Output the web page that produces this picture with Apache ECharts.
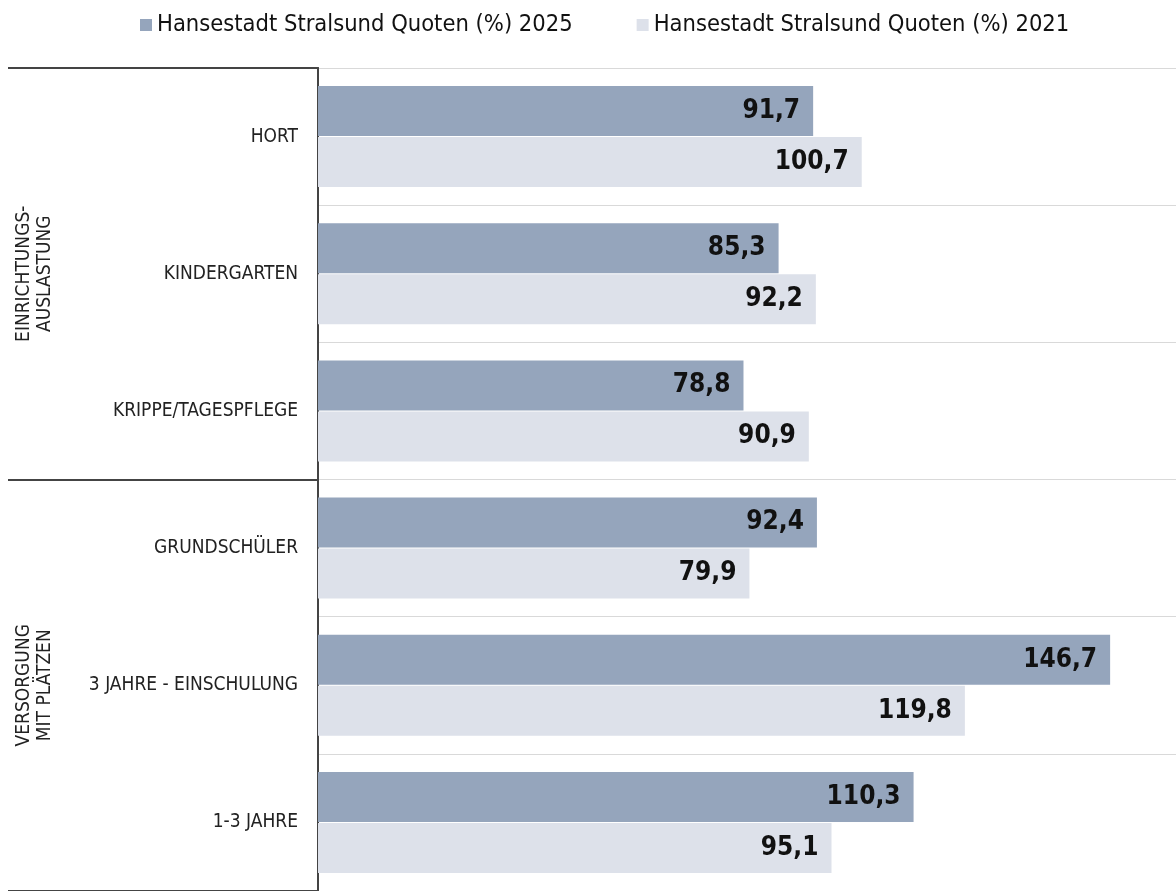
<!DOCTYPE html>
<html>
<head>
<meta charset="utf-8">
<script src="https://cdn.jsdelivr.net/npm/echarts@6/dist/echarts.min.js"></script>
<style>
html,body{margin:0;padding:0;background:#fff;}
#chart{width:1176px;height:891px;}
</style>
</head>
<body>
<div id="chart"></div>
<script>
const categories = ['HORT', 'KINDERGARTEN', 'KRIPPE/TAGESPFLEGE', 'GRUNDSCHÜLER', '3 JAHRE - EINSCHULUNG', '1-3 JAHRE'];
const groups = ['EINRICHTUNGS-\nAUSLASTUNG', 'VERSORGUNG\nMIT PLÄTZEN'];
const seriesNames = ['Hansestadt Stralsund Quoten (%) 2025', 'Hansestadt Stralsund Quoten (%) 2021'];
const values2025 = [91.7, 85.3, 78.8, 92.4, 146.7, 110.3];
const values2021 = [100.7, 92.2, 90.9, 79.9, 119.8, 95.1];

const chart = echarts.init(document.getElementById('chart'));
const fmt = p => p.value.toFixed(1).replace('.', ',');
const labelStyle = {
  show: true, position: 'insideRight', distance: 13, formatter: fmt,
  fontFamily: 'DejaVu Sans Condensed', fontWeight: 'bold', fontSize: 26, color: '#111'
};
chart.setOption({
  animation: false,
  backgroundColor: '#fff',
  legend: {
    top: 8, left: 135, itemWidth: 12, itemHeight: 12, itemGap: 64, icon: 'rect',
    textStyle: { fontFamily: 'DejaVu Sans Condensed', fontSize: 23.5, color: '#111' },
    data: seriesNames
  },
  grid: { left: 318, right: 0, top: 68, bottom: -4 },
  xAxis: { type: 'value', min: 0, max: 158.9, show: false },
  yAxis: [
    {
      type: 'category', data: categories, inverse: true,
      axisLine: { show: true, lineStyle: { color: '#444', width: 2 } },
      axisTick: { show: false },
      axisLabel: { margin: 20, fontFamily: 'DejaVu Sans Condensed', fontSize: 19, color: '#222', padding: [4, 0, 0, 0] },
      splitLine: { show: true, lineStyle: { color: '#d9d9d9', width: 1 } }
    },
    {
      type: 'category', data: groups, inverse: true, position: 'left',
      axisLine: { show: true, lineStyle: { color: '#444', width: 2 } },
      axisTick: { show: true, length: 310, lineStyle: { color: '#444', width: 2 } },
      axisLabel: { rotate: 90, margin: 262, fontFamily: 'DejaVu Sans Condensed', fontSize: 19, color: '#222', lineHeight: 21 }
    }
  ],
  series: [
    {
      name: seriesNames[0], type: 'bar', data: values2025, yAxisIndex: 0,
      barWidth: 50, barGap: '2%',
      itemStyle: { color: '#95a5bc' }, label: labelStyle
    },
    {
      name: seriesNames[1], type: 'bar', data: values2021, yAxisIndex: 0,
      barWidth: 50, barGap: '2%',
      itemStyle: { color: '#dde1ea' }, label: labelStyle
    }
  ]
});
</script>
</body>
</html>
